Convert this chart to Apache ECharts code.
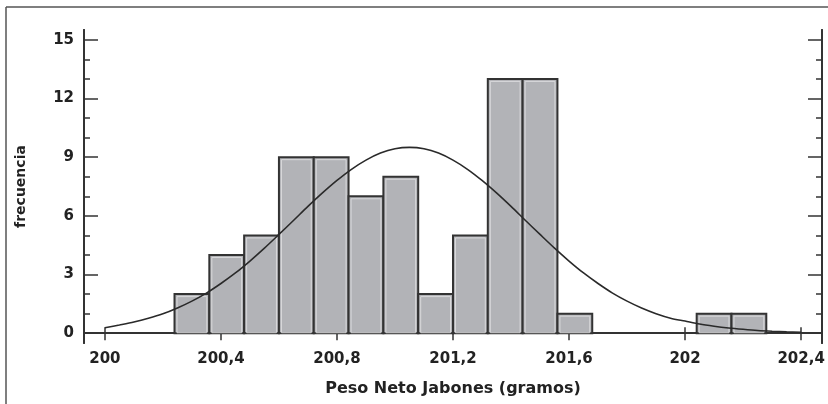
<!DOCTYPE html>
<html>
<head>
<meta charset="utf-8">
<script src="https://cdn.jsdelivr.net/npm/echarts@6/dist/echarts.min.js"></script>
<style>html,body{margin:0;padding:0;background:#fff}#c{width:828px;height:404px}</style>
</head>
<body>
<div id="c"></div>
<script>
// Histogram bins (edges) and frequencies
const binEdges = [200.24, 200.36, 200.48, 200.60, 200.72, 200.84, 200.96, 201.08, 201.20, 201.32, 201.44, 201.56, 201.68, 201.80, 201.92, 202.04, 202.16, 202.28];
const counts   = [2, 4, 5, 9, 9, 7, 8, 2, 5, 13, 13, 1, 0, 0, 0, 1, 1];
// Fitted normal curve
const curveX = [200.0, 200.05, 200.1, 200.15, 200.2, 200.25, 200.3, 200.35, 200.4, 200.45, 200.5, 200.55, 200.6, 200.65, 200.7, 200.75, 200.8, 200.85, 200.9, 200.95, 201.0, 201.05, 201.1, 201.15, 201.2, 201.25, 201.3, 201.35, 201.4, 201.45, 201.5, 201.55, 201.6, 201.65, 201.7, 201.75, 201.8, 201.85, 201.9, 201.95, 202.0, 202.05, 202.1, 202.15, 202.2, 202.25, 202.3, 202.35, 202.4];
const curveY = [0.28, 0.42, 0.57, 0.76, 0.99, 1.29, 1.64, 2.05, 2.54, 3.08, 3.69, 4.35, 5.05, 5.76, 6.48, 7.17, 7.81, 8.38, 8.85, 9.21, 9.43, 9.5, 9.43, 9.21, 8.85, 8.38, 7.81, 7.17, 6.48, 5.76, 5.05, 4.35, 3.69, 3.08, 2.54, 2.05, 1.64, 1.29, 1.0, 0.77, 0.62, 0.47, 0.36, 0.27, 0.2, 0.14, 0.1, 0.07, 0.05];
// Tick labels
const xTicks = [200, 200.4, 200.8, 201.2, 201.6, 202, 202.4];
const yMajor = [0, 3, 6, 9, 12, 15];
const yMinor = [1, 2, 4, 5, 7, 8, 10, 11, 13, 14];
const xTitle = 'Peso Neto Jabones (gramos)';
const yTitle = 'frecuencia';

const barData = counts.map((c, i) => [binEdges[i], binEdges[i + 1], c]).filter(d => d[2] > 0);
const curveData = curveX.map((x, i) => [x, curveY[i]]);

const FONT = 'DejaVu Sans';
const axisLineStyle = { color: '#333', width: 2 };
const tickStyle = { color: '#333', width: 1.5 };

function yAxisDef(position, values, len, labels) {
  return {
    type: 'value', position: position, min: -0.5, max: 15.5,
    axisLine: { show: true, lineStyle: axisLineStyle },
    axisTick: { show: true, inside: true, length: len, customValues: values, lineStyle: tickStyle },
    axisLabel: labels ? { show: true, customValues: values, margin: 10, color: '#222', fontFamily: FONT, fontWeight: 'bold', fontSize: 15 } : { show: false },
    splitLine: { show: false }
  };
}

const chart = echarts.init(document.getElementById('c'), null, { renderer: 'canvas' });
chart.setOption({
  animation: false,
  backgroundColor: '#fff',
  grid: { left: 84, right: 6, top: 30, bottom: 61, containLabel: false },
  xAxis: [
    {
      type: 'value', position: 'bottom', min: 199.928, max: 202.472,
      axisLine: { show: true, lineStyle: axisLineStyle },
      axisTick: { show: true, inside: true, length: 6, customValues: xTicks, lineStyle: tickStyle },
      axisLabel: { show: true, customValues: xTicks, margin: 9, color: '#222', fontFamily: FONT, fontWeight: 'bold', fontSize: 15,
        formatter: v => String(Number(v.toFixed(1))).replace('.', ',') },
      splitLine: { show: false },
      name: xTitle, nameLocation: 'middle', nameGap: 38,
      nameTextStyle: { color: '#222', fontFamily: FONT, fontWeight: 'bold', fontSize: 16 }
    },
    {
      type: 'value', position: 'top', min: 199.928, max: 202.472,
      axisLine: { show: true, lineStyle: axisLineStyle },
      axisTick: { show: true, inside: true, length: 7, customValues: xTicks, lineStyle: tickStyle },
      axisLabel: { show: false }, splitLine: { show: false }
    }
  ],
  yAxis: [
    Object.assign(yAxisDef('left', yMajor, 14, true), {
      name: yTitle, nameLocation: 'middle', nameGap: 56, nameRotate: 90,
      nameTextStyle: { color: '#222', fontFamily: FONT, fontWeight: 'bold', fontSize: 14 }
    }),
    yAxisDef('left', yMinor, 6, false),
    yAxisDef('right', yMajor, 14, false),
    yAxisDef('right', yMinor, 6, false)
  ],
  graphic: [
    { type: 'line', shape: { x1: 6, y1: 7, x2: 828, y2: 7 }, style: { stroke: '#555', lineWidth: 1.5 }, silent: true },
    { type: 'line', shape: { x1: 6, y1: 7, x2: 6, y2: 404 }, style: { stroke: '#555', lineWidth: 1.5 }, silent: true }
  ],
  series: [
    {
      type: 'custom', xAxisIndex: 0, yAxisIndex: 0, z: 2,
      data: barData,
      encode: { x: [0, 1], y: 2 },
      renderItem: function (params, api) {
        const p0 = api.coord([api.value(0), api.value(2)]);
        const p1 = api.coord([api.value(1), 0]);
        const x = p0[0], y = p0[1], w = p1[0] - p0[0], h = p1[1] - p0[1];
        return {
          type: 'group',
          children: [
            { type: 'rect', shape: { x: x, y: y, width: w, height: h }, style: { fill: '#b2b3b7', stroke: '#333', lineWidth: 2 } },
            { type: 'rect', shape: { x: x + 2.5, y: y + 2.5, width: w - 5, height: h - 3 }, style: { fill: null, stroke: '#d9d9db', lineWidth: 1 } }
          ]
        };
      }
    },
    {
      type: 'line', xAxisIndex: 0, yAxisIndex: 0, z: 5,
      data: curveData, smooth: 0.3, symbol: 'none',
      lineStyle: { color: '#2a2a2a', width: 1.6 }
    }
  ]
});
</script>
</body>
</html>
